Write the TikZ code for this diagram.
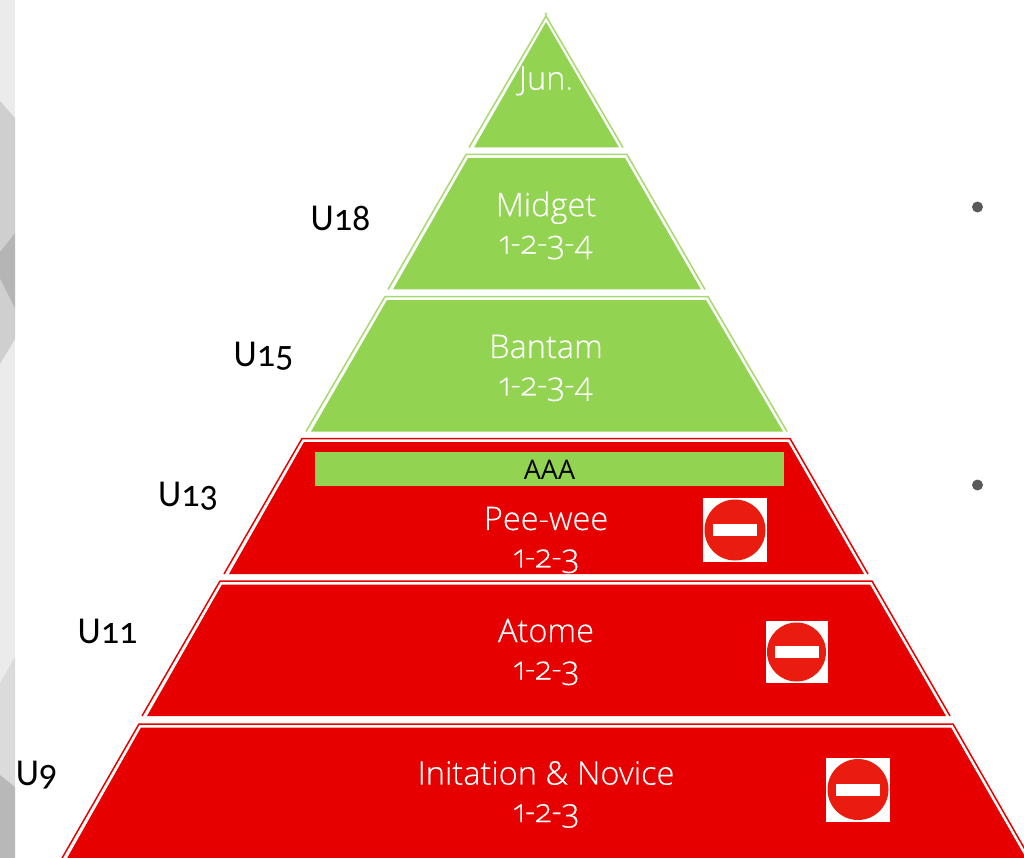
\documentclass[tikz,border=0pt]{standalone}
\usepackage{fontspec}
\setmainfont[Numbers=OldStyle,FakeStretch=0.95]{Carlito}
\newfontfamily\tierfont[Numbers=OldStyle,UprightFont={* Light},FakeBold=0.25]{Open Sans}
\newfontfamily\aaafont{Open Sans}
\definecolor{tgreen}{HTML}{92D351}
\definecolor{tgreenl}{HTML}{A6DA70}
\definecolor{tred}{HTML}{E60000}
\definecolor{signred}{HTML}{EA1C10}
\tikzset{
 x=1pt,y=-1pt,
 tierlabel/.style={text=white,font=\tierfont\fontsize{32.5}{37.5}\selectfont,align=center,inner sep=0pt},
 sidelabel/.style={text=black,font=\fontsize{38}{40}\selectfont,inner sep=0pt},
 greenout/.style={draw=tgreenl,line width=1.5pt},
 redout/.style={draw=tred,line width=1.5pt},
 greenin/.style={fill=tgreen},
 redin/.style={fill=tred},
 signbox/.style={fill=white,minimum size=64pt,inner sep=0pt,draw=none},
 signdisc/.style={fill=signred,circle,minimum size=61pt,inner sep=0pt,draw=none},
 signbar/.style={fill=white,minimum width=44pt,minimum height=12pt,inner sep=0pt,draw=none},
 bulletdot/.style={fill=black!65,circle,minimum size=11pt,inner sep=0pt,draw=none},
}
\begin{document}
\begin{tikzpicture}
\useasboundingbox (0,0) rectangle (1024,858);
\fill[white] (0,0) rectangle (1024,858);
% left strip
\fill[black!8] (0,0) rectangle (15,858);
\fill[black!19] (0,101) -- (15,118) -- (15,233) -- (0,252) -- cycle;
\fill[black!29] (0,252) -- (15,233) -- (15,309) -- (0,279) -- cycle;
\fill[black!19] (0,279) -- (15,309) -- (15,339) -- (0,364) -- cycle;
\fill[black!14] (0,683) -- (15,657) -- (15,787) -- (0,775) -- cycle;
\fill[black!28] (0,775) -- (15,787) -- (15,858) -- (0,858) -- cycle;
% tiers: outer open line + inner fill
\draw[greenout] (469,147.5) -- (546,16) -- (623,147.5);
\fill[greenin] (474,147.5) -- (546,22) -- (619,147.5) -- cycle;
\draw[tgreenl,line width=.6pt] (546,14) circle (1.3);
\draw[greenout] (388,289.5) -- (466,154.5) -- (627,154.5) -- (705,289.5);
\fill[greenin] (393,289.5) -- (468,158) -- (625,158) -- (701,289.5) -- cycle;
\draw[greenout] (306,431.5) -- (385,296.5) -- (708,296.5) -- (787,431.5);
\fill[greenin] (311,431.5) -- (387,300) -- (706,300) -- (783,431.5) -- cycle;
\draw[redout] (224,574) -- (302,438.5) -- (790,438.5) -- (868,574);
\fill[redin] (229,574) -- (304,442) -- (788,442) -- (864,574) -- cycle;
\draw[redout] (142,716) -- (220,581) -- (872,581) -- (950,716);
\fill[redin] (147,716) -- (222,584.5) -- (870,584.5) -- (946,716) -- cycle;
\draw[redout] (61,860) -- (139,724) -- (953,724) -- (1031,860);
\fill[redin] (66,860) -- (141,727.5) -- (951,727.5) -- (1027,860) -- cycle;
% AAA bar
\fill[tgreen] (315,452) rectangle (784,486);
\node[text=black,font=\aaafont\fontsize{27}{29}\selectfont,inner sep=0pt] (aaa) at (549.5,470) {AAA};
% tier texts
\node[tierlabel] (jun) at (546,81) {Jun.};
\node[tierlabel] (midget) at (546,225.5) {Midget\\1-2-3-4};
\node[tierlabel] (bantam) at (546,368) {Bantam\\1-2-3-4};
\node[tierlabel] (peewee) at (546,540) {Pee-wee\\1-2-3};
\node[tierlabel] (atome) at (546,652) {Atome\\1-2-3};
\node[tierlabel] (novice) at (546,794.5) {Initation \& Novice\\1-2-3};
% side labels
\node[sidelabel] (u18) at (340.5,218) {U18};
\node[sidelabel] (u15) at (263.5,356) {U15};
\node[sidelabel] (u13) at (188,496) {U13};
\node[sidelabel] (u11) at (107.5,631) {U11};
\node[sidelabel] (u9) at (36.5,775) {U9};
% no-entry signs
\node[signbox] (s1) at (735,530) {};
\node[signdisc] (d1) at (735,530) {};
\node[signbar] (b1) at (735,530) {};
\node[signbox,minimum size=62pt] (s2) at (796.5,652) {};
\node[signdisc,minimum size=59pt] (d2) at (796.5,652) {};
\node[signbar] (b2) at (796.5,652) {};
\node[signbox] (s3) at (858,789.5) {};
\node[signdisc] (d3) at (858,789.5) {};
\node[signbar] (b3) at (858,789.5) {};
% bullets
\node[bulletdot] (bul1) at (977.5,207) {};
\node[bulletdot] (bul2) at (977.5,485) {};
\end{tikzpicture}
\end{document}
